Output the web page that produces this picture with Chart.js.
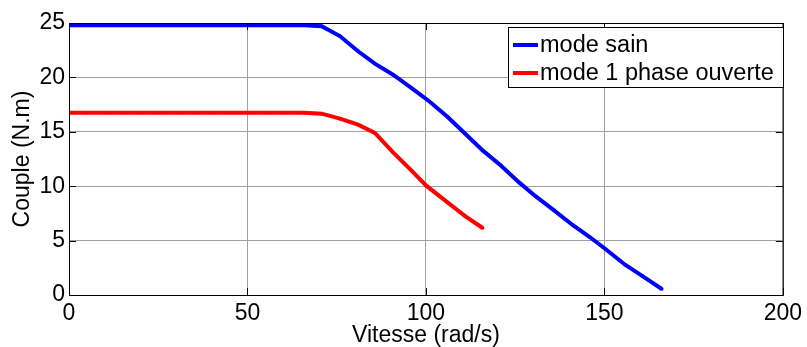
<!DOCTYPE html>
<html>
<head>
<meta charset="utf-8">
<script src="https://cdn.jsdelivr.net/npm/chart.js@4"></script>
<style>
  html, body { margin: 0; padding: 0; background: #fff; }
  #wrap { width: 807px; height: 347px; }
</style>
</head>
<body>
<div id="wrap"><canvas id="coupleChart" width="807" height="347"></canvas></div>
<script>
// ── Data ──
const saneX = [0, 5.1, 10.1, 15.2, 20.3, 25.4, 30.4, 35.5, 40.6, 45.6, 50.7, 55.8, 60.8, 65.9,
  70.8, 75.9, 81.0, 85.7, 90.8, 95.9, 101.0, 106.1, 110.8, 115.9, 121.0, 126.1, 130.8,
  135.9, 141.0, 145.9, 150.3, 155.8, 160.8, 166.1];
const saneY = [24.8, 24.8, 24.8, 24.8, 24.8, 24.8, 24.8, 24.8, 24.8, 24.8, 24.8, 24.8, 24.8, 24.8,
  24.7, 23.8, 22.4, 21.26, 20.25, 19.03, 17.79, 16.36, 14.89, 13.29, 11.91, 10.35, 9.06,
  7.78, 6.46, 5.33, 4.23, 2.78, 1.71, 0.55];

const openX = [0, 5.1, 10.1, 15.2, 20.3, 25.4, 30.4, 35.5, 40.6, 45.6, 50.7, 55.8, 60.8, 65.9,
  70.8, 75.9, 81.0, 85.7, 90.8, 95.9, 100.1, 105.7, 110.8, 115.9];
const openY = [16.75, 16.75, 16.75, 16.75, 16.75, 16.75, 16.75, 16.75, 16.75, 16.75, 16.75, 16.75, 16.75, 16.75,
  16.67, 16.21, 15.65, 14.89, 13.11, 11.45, 10.05, 8.60, 7.29, 6.16];

const seriesLabels = ["mode sain", "mode 1 phase ouverte"];
const seriesColors = ["#0000ff", "#ff0000"];
const xTicks = [0, 50, 100, 150, 200];
const yTicks = [0, 5, 10, 15, 20, 25];

const FONT = "'Liberation Sans', Arial, sans-serif";

function toPoints(xs, ys) {
  return xs.map((x, i) => ({ x: x, y: ys[i] }));
}

// ── Box with inner ticks + legend (MATLAB style) ──
const matlabFrame = {
  id: "matlabFrame",
  afterDatasetsDraw(chart) {
    const { ctx, chartArea: a, scales } = chart;
    ctx.save();
    ctx.strokeStyle = "#000";
    ctx.lineWidth = 1;
    ctx.strokeRect(a.left + 0.5, a.top + 0.5, a.right - a.left, a.bottom - a.top);

    // inner tick marks on all four sides
    ctx.beginPath();
    xTicks.forEach(v => {
      const px = Math.round(scales.x.getPixelForValue(v)) + 0.5;
      ctx.moveTo(px, a.bottom); ctx.lineTo(px, a.bottom - 7);
      ctx.moveTo(px, a.top); ctx.lineTo(px, a.top + 7);
    });
    yTicks.forEach(v => {
      const py = Math.round(scales.y.getPixelForValue(v)) + 0.5;
      ctx.moveTo(a.left, py); ctx.lineTo(a.left + 7, py);
      ctx.moveTo(a.right, py); ctx.lineTo(a.right - 7, py);
    });
    ctx.stroke();

    // legend box
    const lx = 508, ly = 27, lw = 275, lh = 60;
    ctx.fillStyle = "#fff";
    ctx.fillRect(lx, ly, lw, lh);
    ctx.strokeRect(lx + 0.5, ly + 0.5, lw, lh);
    ctx.font = "23.5px " + FONT;
    ctx.textBaseline = "middle";
    seriesLabels.forEach((label, i) => {
      const y = ly + 18 + i * 28;
      ctx.strokeStyle = seriesColors[i];
      ctx.lineWidth = 4;
      ctx.beginPath();
      ctx.moveTo(513, y); ctx.lineTo(538, y);
      ctx.stroke();
      ctx.fillStyle = seriesColors[i];
      ctx.beginPath();
      ctx.arc(525.5, y, 2, 0, Math.PI * 2);
      ctx.fill();
      ctx.fillStyle = "#000";
      ctx.fillText(label, 540, y + 1);
    });
    ctx.restore();
  }
};

const ctx = document.getElementById("coupleChart").getContext("2d");

new Chart(ctx, {
  type: "line",
  data: {
    datasets: [
      {
        label: seriesLabels[0],
        data: toPoints(saneX, saneY),
        borderColor: seriesColors[0],
        backgroundColor: seriesColors[0],
        borderWidth: 4,
        pointRadius: 1.8,
        pointBorderWidth: 0,
        fill: false,
        tension: 0
      },
      {
        label: seriesLabels[1],
        data: toPoints(openX, openY),
        borderColor: seriesColors[1],
        backgroundColor: seriesColors[1],
        borderWidth: 4,
        pointRadius: 1.8,
        pointBorderWidth: 0,
        fill: false,
        tension: 0
      }
    ]
  },
  options: {
    responsive: false,
    animation: false,
    devicePixelRatio: 1,
    layout: { padding: { top: 23, right: 20, left: 0, bottom: 0 } },
    plugins: {
      legend: { display: false },
      tooltip: { enabled: false }
    },
    scales: {
      x: {
        type: "linear",
        min: 0,
        max: 200,
        afterBuildTicks(axis) { axis.ticks = xTicks.map(v => ({ value: v })); },
        afterFit(axis) { axis.height = 52; },
        grid: { color: "#a0a0a0", lineWidth: 1, drawTicks: false },
        border: { display: false },
        ticks: {
          color: "#000",
          font: { family: FONT, size: 23 },
          padding: 5,
          maxRotation: 0
        },
        title: {
          display: true,
          text: "Vitesse (rad/s)",
          color: "#000",
          font: { family: FONT, size: 23 },
          padding: { top: 0, bottom: -2 }
        }
      },
      y: {
        type: "linear",
        min: 0,
        max: 25,
        afterBuildTicks(axis) { axis.ticks = yTicks.map(v => ({ value: v })); },
        afterFit(axis) { axis.width = 69; },
        grid: { color: "#a0a0a0", lineWidth: 1, drawTicks: false },
        border: { display: false },
        ticks: {
          color: "#000",
          font: { family: FONT, size: 23 },
          padding: 4
        },
        title: {
          display: true,
          text: "Couple (N.m)",
          color: "#000",
          font: { family: FONT, size: 23 },
          padding: { top: 9, bottom: 0 }
        }
      }
    }
  },
  plugins: [matlabFrame]
});
</script>
</body>
</html>
